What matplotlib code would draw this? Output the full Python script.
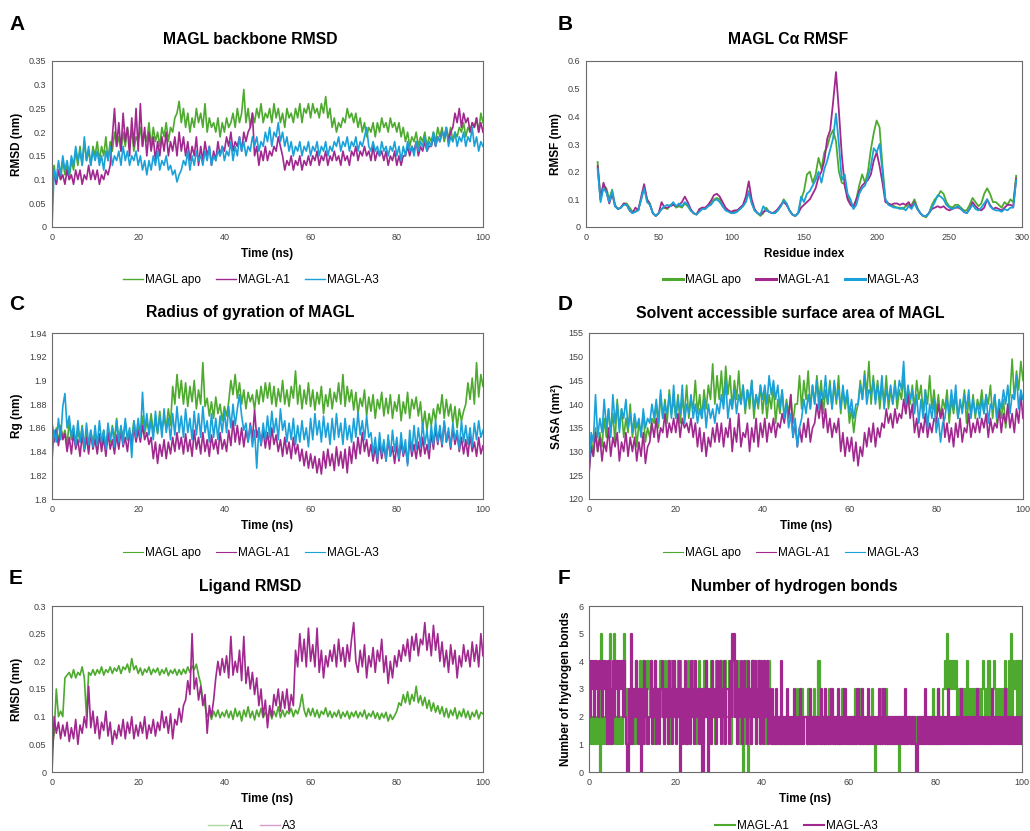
import matplotlib
matplotlib.use("Agg")
import matplotlib.pyplot as plt
import numpy as np

plt.rcParams['font.family'] = ['Liberation Sans', 'DejaVu Sans']

# colores
verde = '#4DAA2F'
magenta = '#A0288F'
azul = '#1AA1D9'

# ---------------- datos ----------------
# tiempo cada 0.5 ns (201 puntos), 0..100 ns
t = np.arange(201) * 0.5

# A: RMSD backbone (nm)
rmsd_apo = [
    0.10, 0.13, 0.09, 0.12, 0.10, 0.14, 0.11, 0.13, 0.10, 0.14, 0.12, 0.16, 0.13, 0.17, 0.13, 0.18, 0.14, 0.16, 0.13, 0.17,
    0.15, 0.18, 0.14, 0.17, 0.15, 0.19, 0.14, 0.18, 0.16, 0.20, 0.17, 0.19, 0.16, 0.20, 0.17, 0.21, 0.18, 0.20, 0.16, 0.19,
    0.18, 0.21, 0.17, 0.20, 0.18, 0.22, 0.17, 0.21, 0.18, 0.20, 0.17, 0.21, 0.19, 0.22, 0.18, 0.21, 0.20, 0.23, 0.24, 0.265,
    0.22, 0.25, 0.21, 0.24, 0.20, 0.23, 0.21, 0.25, 0.22, 0.24, 0.21, 0.26, 0.20, 0.23, 0.21, 0.22, 0.20, 0.23, 0.19, 0.22,
    0.20, 0.23, 0.21, 0.22, 0.24, 0.21, 0.25, 0.22, 0.24, 0.29, 0.22, 0.25, 0.21, 0.24, 0.22, 0.25, 0.23, 0.26, 0.22, 0.24,
    0.23, 0.25, 0.22, 0.26, 0.23, 0.25, 0.22, 0.24, 0.21, 0.25, 0.23, 0.24, 0.22, 0.25, 0.23, 0.26, 0.22, 0.25, 0.24, 0.26,
    0.23, 0.26, 0.24, 0.25, 0.23, 0.26, 0.24, 0.275, 0.23, 0.25, 0.21, 0.23, 0.20, 0.22, 0.21, 0.23, 0.22, 0.25, 0.23, 0.24,
    0.22, 0.24, 0.21, 0.23, 0.20, 0.22, 0.19, 0.21, 0.20, 0.22, 0.19, 0.22, 0.20, 0.23, 0.21, 0.22, 0.20, 0.23, 0.21, 0.22,
    0.20, 0.22, 0.19, 0.21, 0.18, 0.20, 0.17, 0.19, 0.18, 0.20, 0.17, 0.19, 0.18, 0.20, 0.17, 0.19, 0.18, 0.20, 0.18, 0.21,
    0.19, 0.21, 0.18, 0.20, 0.19, 0.21, 0.18, 0.20, 0.19, 0.21, 0.20, 0.22, 0.19, 0.21, 0.20, 0.22, 0.21, 0.23, 0.20, 0.24,
    0.22]
rmsd_a1 = [
    0.08, 0.11, 0.09, 0.12, 0.10, 0.11, 0.09, 0.12, 0.10, 0.11, 0.09, 0.12, 0.10, 0.12, 0.09, 0.11, 0.10, 0.13, 0.10, 0.12,
    0.10, 0.12, 0.09, 0.11, 0.10, 0.12, 0.11, 0.13, 0.19, 0.25, 0.17, 0.22, 0.16, 0.24, 0.18, 0.21, 0.15, 0.23, 0.17, 0.25,
    0.16, 0.26, 0.17, 0.21, 0.15, 0.20, 0.16, 0.19, 0.14, 0.18, 0.15, 0.19, 0.16, 0.20, 0.15, 0.18, 0.16, 0.19, 0.15, 0.20,
    0.16, 0.19, 0.15, 0.18, 0.14, 0.17, 0.15, 0.19, 0.13, 0.17, 0.14, 0.18, 0.15, 0.17, 0.13, 0.16, 0.14, 0.18, 0.15, 0.17,
    0.16, 0.19, 0.17, 0.20, 0.16, 0.18, 0.17, 0.19, 0.16, 0.20, 0.18, 0.20, 0.21, 0.24, 0.15, 0.17, 0.13, 0.16, 0.14, 0.17,
    0.14, 0.16, 0.15, 0.17, 0.16, 0.19, 0.17, 0.15, 0.12, 0.14, 0.13, 0.15, 0.12, 0.14, 0.13, 0.15, 0.12, 0.14, 0.13, 0.15,
    0.13, 0.15, 0.14, 0.16, 0.13, 0.15, 0.14, 0.16, 0.13, 0.15, 0.14, 0.16, 0.14, 0.15, 0.13, 0.16, 0.14, 0.15, 0.13, 0.16,
    0.15, 0.17, 0.14, 0.16, 0.15, 0.17, 0.15, 0.16, 0.14, 0.17, 0.14, 0.16, 0.15, 0.16, 0.14, 0.16, 0.13, 0.15, 0.14, 0.16,
    0.13, 0.15, 0.13, 0.15, 0.15, 0.17, 0.15, 0.17, 0.16, 0.18, 0.15, 0.17, 0.16, 0.18, 0.16, 0.17, 0.17, 0.19, 0.17, 0.19,
    0.18, 0.20, 0.19, 0.21, 0.18, 0.20, 0.21, 0.24, 0.22, 0.25, 0.21, 0.24, 0.22, 0.23, 0.20, 0.22, 0.21, 0.23, 0.20, 0.22,
    0.20]
rmsd_a3 = [
    0.00, 0.12, 0.10, 0.14, 0.11, 0.15, 0.12, 0.14, 0.11, 0.15, 0.13, 0.17, 0.14, 0.16, 0.13, 0.19, 0.14, 0.17, 0.13, 0.16,
    0.14, 0.16, 0.13, 0.15, 0.12, 0.16, 0.14, 0.17, 0.13, 0.15, 0.14, 0.16, 0.13, 0.17, 0.14, 0.16, 0.13, 0.15, 0.14, 0.16,
    0.13, 0.15, 0.12, 0.14, 0.11, 0.14, 0.12, 0.15, 0.13, 0.16, 0.12, 0.14, 0.13, 0.15, 0.12, 0.13, 0.11, 0.12, 0.095, 0.11,
    0.12, 0.14, 0.13, 0.16, 0.12, 0.15, 0.13, 0.16, 0.14, 0.15, 0.13, 0.16, 0.14, 0.17, 0.13, 0.15, 0.14, 0.16, 0.15, 0.17,
    0.14, 0.16, 0.15, 0.18, 0.14, 0.17, 0.15, 0.19, 0.16, 0.18, 0.15, 0.17, 0.16, 0.19, 0.17, 0.19, 0.16, 0.18, 0.17, 0.20,
    0.18, 0.21, 0.17, 0.20, 0.19, 0.22, 0.18, 0.20, 0.17, 0.19, 0.16, 0.18, 0.15, 0.17, 0.16, 0.18, 0.15, 0.17, 0.16, 0.18,
    0.15, 0.17, 0.16, 0.18, 0.15, 0.17, 0.16, 0.18, 0.15, 0.17, 0.16, 0.18, 0.17, 0.19, 0.16, 0.18, 0.17, 0.19, 0.16, 0.18,
    0.17, 0.19, 0.16, 0.18, 0.17, 0.19, 0.21, 0.17, 0.16, 0.18, 0.16, 0.17, 0.15, 0.18, 0.16, 0.17, 0.15, 0.17, 0.16, 0.18,
    0.15, 0.17, 0.14, 0.17, 0.15, 0.18, 0.16, 0.17, 0.15, 0.18, 0.16, 0.18, 0.17, 0.19, 0.16, 0.18, 0.17, 0.20, 0.17, 0.19,
    0.18, 0.20, 0.19, 0.21, 0.17, 0.19, 0.18, 0.20, 0.17, 0.19, 0.18, 0.20, 0.17, 0.19, 0.18, 0.21, 0.17, 0.19, 0.16, 0.18,
    0.17]

# B: RMSF por residuo (nm), residuos 8..296 cada 2
residuos = np.arange(8, 297, 2)
rmsf_apo = [
    0.235, 0.10, 0.15, 0.14, 0.10, 0.135, 0.08, 0.065, 0.07, 0.085,
    0.085, 0.07, 0.055, 0.055, 0.065, 0.10, 0.145, 0.10, 0.085, 0.05,
    0.04, 0.05, 0.065, 0.07, 0.065, 0.08, 0.085, 0.07, 0.075, 0.07,
    0.085, 0.075, 0.06, 0.05, 0.045, 0.06, 0.07, 0.065, 0.075, 0.085,
    0.10, 0.105, 0.10, 0.075, 0.065, 0.06, 0.05, 0.055, 0.06, 0.065,
    0.075, 0.095, 0.13, 0.09, 0.06, 0.05, 0.04, 0.05, 0.07, 0.055,
    0.05, 0.05, 0.06, 0.075, 0.10, 0.085, 0.06, 0.045, 0.04, 0.05,
    0.10, 0.13, 0.19, 0.20, 0.16, 0.19, 0.25, 0.21, 0.27, 0.29,
    0.33, 0.35, 0.31, 0.20, 0.16, 0.155, 0.11, 0.09, 0.075, 0.10,
    0.15, 0.19, 0.16, 0.20, 0.28, 0.34, 0.385, 0.36, 0.22, 0.10,
    0.085, 0.08, 0.075, 0.07, 0.07, 0.065, 0.075, 0.08, 0.08, 0.10,
    0.07, 0.05, 0.04, 0.035, 0.05, 0.08, 0.10, 0.11, 0.13, 0.12,
    0.09, 0.075, 0.07, 0.08, 0.08, 0.07, 0.06, 0.06, 0.08, 0.105,
    0.09, 0.075, 0.085, 0.12, 0.14, 0.12, 0.09, 0.09, 0.08, 0.07,
    0.09, 0.08, 0.10, 0.09, 0.185]
rmsf_a1 = [
    0.22, 0.10, 0.16, 0.13, 0.085, 0.12, 0.075, 0.065, 0.07, 0.085,
    0.08, 0.06, 0.05, 0.07, 0.06, 0.11, 0.155, 0.10, 0.08, 0.05,
    0.04, 0.05, 0.09, 0.07, 0.07, 0.075, 0.08, 0.075, 0.08, 0.09,
    0.11, 0.09, 0.065, 0.05, 0.045, 0.065, 0.07, 0.07, 0.08, 0.095,
    0.115, 0.12, 0.11, 0.09, 0.07, 0.06, 0.055, 0.06, 0.06, 0.07,
    0.08, 0.11, 0.165, 0.10, 0.065, 0.05, 0.045, 0.055, 0.06, 0.055,
    0.05, 0.055, 0.065, 0.08, 0.09, 0.08, 0.06, 0.045, 0.04, 0.05,
    0.07, 0.08, 0.09, 0.10, 0.12, 0.14, 0.18, 0.20, 0.24, 0.32,
    0.35, 0.45, 0.56, 0.42, 0.26, 0.15, 0.10, 0.08, 0.07, 0.10,
    0.13, 0.15, 0.16, 0.17, 0.19, 0.24, 0.27, 0.22, 0.16, 0.09,
    0.085, 0.08, 0.085, 0.085, 0.08, 0.085, 0.08, 0.09, 0.07, 0.09,
    0.065, 0.05, 0.04, 0.04, 0.05, 0.065, 0.07, 0.075, 0.07, 0.075,
    0.065, 0.06, 0.065, 0.07, 0.07, 0.065, 0.055, 0.05, 0.065, 0.09,
    0.075, 0.065, 0.06, 0.07, 0.10, 0.08, 0.065, 0.07, 0.065, 0.06,
    0.07, 0.08, 0.08, 0.075, 0.175]
rmsf_a3 = [
    0.21, 0.09, 0.14, 0.125, 0.09, 0.13, 0.075, 0.065, 0.07, 0.08,
    0.08, 0.06, 0.05, 0.055, 0.06, 0.10, 0.14, 0.09, 0.08, 0.05,
    0.04, 0.05, 0.065, 0.075, 0.08, 0.075, 0.09, 0.075, 0.085, 0.075,
    0.09, 0.08, 0.06, 0.05, 0.045, 0.055, 0.065, 0.065, 0.075, 0.08,
    0.095, 0.10, 0.09, 0.075, 0.06, 0.055, 0.05, 0.05, 0.055, 0.065,
    0.075, 0.09, 0.125, 0.085, 0.06, 0.05, 0.045, 0.075, 0.06, 0.055,
    0.05, 0.05, 0.06, 0.075, 0.095, 0.085, 0.06, 0.045, 0.04, 0.05,
    0.11, 0.09, 0.12, 0.13, 0.15, 0.17, 0.20, 0.16, 0.21, 0.24,
    0.28, 0.32, 0.41, 0.30, 0.17, 0.19, 0.12, 0.10, 0.065, 0.08,
    0.12, 0.14, 0.15, 0.18, 0.22, 0.285, 0.27, 0.30, 0.20, 0.10,
    0.08, 0.075, 0.07, 0.07, 0.065, 0.07, 0.06, 0.075, 0.065, 0.085,
    0.065, 0.05, 0.04, 0.04, 0.05, 0.07, 0.09, 0.115, 0.11, 0.10,
    0.08, 0.07, 0.065, 0.07, 0.075, 0.065, 0.055, 0.05, 0.065, 0.08,
    0.065, 0.06, 0.07, 0.085, 0.10, 0.075, 0.065, 0.06, 0.06, 0.055,
    0.065, 0.06, 0.07, 0.07, 0.17]

# C: radio de giro (nm)
rg_apo = [
    1.865, 1.850, 1.860, 1.848, 1.862, 1.852, 1.858, 1.846, 1.865, 1.850, 1.860, 1.845, 1.858, 1.848, 1.862, 1.845, 1.856, 1.842, 1.858, 1.846,
    1.855, 1.840, 1.852, 1.845, 1.858, 1.843, 1.856, 1.848, 1.862, 1.850, 1.868, 1.848, 1.860, 1.852, 1.865, 1.850, 1.858, 1.850, 1.866, 1.852,
    1.862, 1.852, 1.870, 1.855, 1.865, 1.858, 1.872, 1.856, 1.866, 1.855, 1.874, 1.858, 1.868, 1.860, 1.876, 1.862, 1.895, 1.880, 1.905, 1.885,
    1.900, 1.880, 1.898, 1.878, 1.895, 1.882, 1.900, 1.876, 1.892, 1.880, 1.915, 1.878, 1.885, 1.870, 1.882, 1.868, 1.886, 1.872, 1.880, 1.866,
    1.878, 1.870, 1.882, 1.900, 1.888, 1.905, 1.885, 1.898, 1.880, 1.892, 1.876, 1.890, 1.882, 1.888, 1.875, 1.892, 1.880, 1.895, 1.882, 1.898,
    1.885, 1.898, 1.880, 1.895, 1.878, 1.893, 1.882, 1.900, 1.880, 1.892, 1.878, 1.895, 1.885, 1.908, 1.880, 1.896, 1.876, 1.892, 1.880, 1.898,
    1.878, 1.892, 1.875, 1.890, 1.880, 1.895, 1.872, 1.888, 1.878, 1.893, 1.876, 1.890, 1.882, 1.898, 1.880, 1.905, 1.878, 1.895, 1.882, 1.892,
    1.875, 1.890, 1.872, 1.885, 1.878, 1.892, 1.870, 1.886, 1.874, 1.888, 1.868, 1.884, 1.876, 1.890, 1.870, 1.885, 1.872, 1.888, 1.868, 1.882,
    1.874, 1.888, 1.866, 1.882, 1.872, 1.890, 1.868, 1.884, 1.876, 1.886, 1.870, 1.882, 1.860, 1.874, 1.858, 1.872, 1.862, 1.876, 1.866, 1.880,
    1.872, 1.888, 1.868, 1.884, 1.870, 1.880, 1.864, 1.878, 1.860, 1.876, 1.866, 1.874, 1.880, 1.898, 1.884, 1.902, 1.880, 1.915, 1.886, 1.905,
    1.895]
rg_a1 = [
    1.862, 1.848, 1.858, 1.845, 1.860, 1.850, 1.855, 1.840, 1.852, 1.838, 1.856, 1.842, 1.850, 1.836, 1.854, 1.840, 1.852, 1.838, 1.856, 1.842,
    1.850, 1.838, 1.855, 1.840, 1.852, 1.836, 1.856, 1.842, 1.850, 1.838, 1.854, 1.842, 1.858, 1.844, 1.852, 1.840, 1.856, 1.845, 1.860, 1.848,
    1.858, 1.848, 1.862, 1.850, 1.856, 1.846, 1.852, 1.834, 1.848, 1.830, 1.846, 1.836, 1.850, 1.834, 1.848, 1.838, 1.852, 1.840, 1.856, 1.842,
    1.852, 1.838, 1.855, 1.840, 1.850, 1.836, 1.858, 1.842, 1.852, 1.838, 1.856, 1.840, 1.850, 1.836, 1.854, 1.842, 1.850, 1.838, 1.856, 1.842,
    1.850, 1.840, 1.858, 1.845, 1.866, 1.848, 1.862, 1.846, 1.860, 1.844, 1.858, 1.848, 1.864, 1.850, 1.875, 1.852, 1.860, 1.845, 1.858, 1.843,
    1.856, 1.842, 1.860, 1.846, 1.854, 1.840, 1.850, 1.836, 1.852, 1.838, 1.848, 1.834, 1.852, 1.838, 1.846, 1.832, 1.842, 1.828, 1.840, 1.826,
    1.838, 1.826, 1.836, 1.822, 1.834, 1.821, 1.840, 1.826, 1.842, 1.828, 1.838, 1.824, 1.844, 1.828, 1.840, 1.826, 1.842, 1.822, 1.844, 1.830,
    1.848, 1.834, 1.852, 1.838, 1.856, 1.840, 1.850, 1.836, 1.846, 1.832, 1.844, 1.830, 1.848, 1.834, 1.846, 1.832, 1.850, 1.836, 1.844, 1.830,
    1.846, 1.832, 1.848, 1.836, 1.844, 1.830, 1.850, 1.836, 1.846, 1.834, 1.848, 1.836, 1.852, 1.838, 1.846, 1.834, 1.856, 1.842, 1.860, 1.846,
    1.858, 1.844, 1.865, 1.848, 1.856, 1.842, 1.860, 1.846, 1.855, 1.840, 1.852, 1.838, 1.850, 1.836, 1.854, 1.840, 1.848, 1.836, 1.852, 1.838,
    1.845]
rg_a3 = [
    1.832, 1.858, 1.848, 1.868, 1.850, 1.878, 1.889, 1.860, 1.870, 1.852, 1.862, 1.845, 1.866, 1.848, 1.860, 1.842, 1.864, 1.846, 1.858, 1.844,
    1.862, 1.845, 1.866, 1.848, 1.858, 1.842, 1.864, 1.850, 1.860, 1.844, 1.866, 1.848, 1.862, 1.846, 1.868, 1.850, 1.860, 1.835, 1.866, 1.852,
    1.868, 1.852, 1.890, 1.858, 1.872, 1.854, 1.866, 1.850, 1.874, 1.856, 1.870, 1.852, 1.876, 1.856, 1.868, 1.850, 1.872, 1.854, 1.878, 1.856,
    1.870, 1.852, 1.876, 1.856, 1.868, 1.850, 1.874, 1.854, 1.872, 1.852, 1.878, 1.856, 1.866, 1.848, 1.872, 1.852, 1.868, 1.850, 1.870, 1.856,
    1.874, 1.856, 1.878, 1.860, 1.880, 1.862, 1.876, 1.888, 1.870, 1.858, 1.864, 1.848, 1.862, 1.844, 1.858, 1.826, 1.860, 1.846, 1.864, 1.850,
    1.870, 1.852, 1.874, 1.856, 1.868, 1.850, 1.876, 1.858, 1.866, 1.848, 1.864, 1.850, 1.868, 1.846, 1.862, 1.848, 1.866, 1.850, 1.860, 1.844,
    1.868, 1.850, 1.872, 1.854, 1.866, 1.848, 1.870, 1.852, 1.864, 1.846, 1.868, 1.850, 1.872, 1.852, 1.864, 1.846, 1.868, 1.850, 1.862, 1.848,
    1.868, 1.852, 1.873, 1.854, 1.866, 1.850, 1.870, 1.852, 1.856, 1.838, 1.852, 1.834, 1.856, 1.838, 1.850, 1.832, 1.854, 1.836, 1.858, 1.840,
    1.852, 1.834, 1.856, 1.838, 1.850, 1.828, 1.858, 1.840, 1.862, 1.842, 1.860, 1.844, 1.864, 1.846, 1.858, 1.842, 1.862, 1.846, 1.866, 1.848,
    1.862, 1.846, 1.866, 1.848, 1.860, 1.844, 1.864, 1.850, 1.858, 1.842, 1.866, 1.848, 1.862, 1.846, 1.860, 1.844, 1.864, 1.850, 1.866, 1.852,
    1.858]

# D: SASA (nm2)
sasa_apo = [
    126, 133, 129, 135, 130, 134, 131, 137, 133, 139, 134, 138, 132, 141, 135, 139, 133, 137, 134, 140,
    133, 137, 131, 136, 134, 138, 132, 135, 133, 137, 136, 140, 135, 142, 137, 141, 136, 143, 138, 141,
    137, 142, 136, 141, 138, 144, 137, 141, 139, 145, 138, 142, 137, 143, 139, 144, 141, 148.5, 140, 146,
    141, 147, 140, 148, 142, 146, 139, 145, 141, 147, 140, 144, 138, 143, 139, 145, 137, 142, 139, 144,
    138, 143, 137, 142, 139, 144, 136, 141, 138, 143, 137, 141, 138, 142, 136, 140, 140, 146, 139, 145,
    141, 147, 139, 144, 140, 146, 141, 145, 138, 143, 140, 145, 139, 144, 140, 146, 138, 143, 139, 142,
    136, 139, 134, 138, 140, 145, 141, 147, 142, 149, 140, 146, 141, 145, 139, 144, 140, 146, 139, 143,
    140, 145, 139, 143, 141, 146, 138, 143, 140, 144, 139, 145, 141, 144, 138, 143, 140, 146, 139, 143,
    138, 142, 137, 141, 139, 143, 136, 141, 138, 142, 137, 140, 139, 143, 136, 141, 138, 142, 137, 141,
    139, 143, 138, 142, 140, 144, 137, 142, 136, 140, 137, 141, 135, 139, 142, 149.5, 141, 147, 143, 149,
    145]
sasa_a1 = [
    125, 131, 129, 134, 130, 133, 128, 132, 130, 135, 129, 133, 131, 134, 128, 132, 130, 134, 129, 133,
    130, 133, 128, 132, 129, 134, 127.5, 131, 132, 136, 133, 137, 132, 135, 134, 138, 133, 136, 134, 137,
    134, 138, 133, 137, 135, 136, 134, 137, 133, 136, 131, 135, 130, 134, 129, 133, 131, 135, 132, 136,
    132, 136, 131, 135, 133, 137, 130, 135, 132, 138, 131, 134, 133, 136, 130, 135, 132, 137, 131, 136,
    133, 137, 132, 136, 134, 137, 133, 136, 135, 138, 136, 140, 137, 142, 133, 136, 131, 135, 132, 136,
    133, 137, 132, 135, 136, 140, 137, 141, 135, 139, 134, 137, 133, 136, 134, 137, 130, 134, 129, 133,
    130, 133, 128, 132, 127, 131, 129, 134, 131, 135, 132, 136, 131, 135, 133, 136, 135, 139, 136, 138,
    135, 139, 136, 138, 137, 141, 138, 142, 137, 140, 134, 137, 133, 136, 134, 138, 133, 136, 134, 137,
    136, 140, 137, 139, 133, 136, 132, 135, 131, 136, 133, 137, 132, 135, 134, 138, 133, 136, 134, 137,
    134, 137, 135, 138, 133, 137, 134, 136, 135, 139, 134, 138, 136, 140, 135, 138, 134, 139, 136, 142,
    137]
sasa_a3 = [
    127, 134, 132, 142, 133, 137, 134, 141, 135, 139, 133, 142, 136, 140, 134, 139, 137, 141, 135, 138,
    134, 138, 135, 137, 133, 139, 135, 137, 136, 140, 137, 141, 136, 143, 137, 140, 138, 142, 137, 144,
    137, 141, 138, 144, 136, 140, 138, 142, 137, 140, 136, 139, 137, 141, 135, 140, 137, 139, 136, 140,
    138, 142, 139, 145, 137, 141, 139, 143, 138, 142, 140, 144, 139, 143, 141, 145, 139, 142, 140, 144,
    141, 144, 140, 146, 142, 145, 141, 144, 139, 143, 137, 140, 135, 138, 133, 137, 131, 135, 137, 141,
    138, 142, 139, 144, 140, 145, 139, 143, 141, 146, 140, 144, 139, 145, 141, 143, 139, 144, 140, 143,
    138, 141, 137, 140, 140, 144, 141, 146, 140, 143, 142, 145, 140, 144, 141, 146, 139, 143, 141, 144,
    140, 144, 141, 145, 143, 149, 140, 144, 141, 143, 138, 142, 136, 141, 137, 143, 135, 140, 137, 141,
    134, 137, 132, 136, 137, 141, 138, 143, 139, 144, 137, 141, 138, 142, 139, 143, 137, 141, 138, 140,
    137, 141, 138, 142, 136, 140, 139, 142, 137, 141, 139, 143, 140, 144, 138, 142, 141, 146, 139, 143,
    141]

# E: RMSD de ligando (nm)
lig_a1 = [
    0.04, 0.07, 0.15, 0.10, 0.11, 0.10, 0.17, 0.175, 0.18, 0.17, 0.185, 0.17, 0.18, 0.175, 0.19, 0.17, 0.10, 0.18, 0.175, 0.185,
    0.175, 0.185, 0.178, 0.19, 0.175, 0.185, 0.18, 0.19, 0.178, 0.188, 0.182, 0.192, 0.178, 0.19, 0.185, 0.195, 0.18, 0.205, 0.185, 0.192,
    0.178, 0.188, 0.175, 0.186, 0.18, 0.19, 0.176, 0.186, 0.18, 0.188, 0.175, 0.185, 0.178, 0.188, 0.174, 0.184, 0.178, 0.186, 0.175, 0.185,
    0.176, 0.186, 0.178, 0.19, 0.18, 0.192, 0.185, 0.195, 0.175, 0.16, 0.13, 0.12, 0.10, 0.11, 0.095, 0.11, 0.10, 0.112, 0.098, 0.108,
    0.10, 0.112, 0.098, 0.11, 0.095, 0.115, 0.10, 0.11, 0.092, 0.112, 0.10, 0.118, 0.098, 0.11, 0.094, 0.112, 0.10, 0.115, 0.098, 0.108,
    0.10, 0.112, 0.096, 0.11, 0.10, 0.118, 0.098, 0.112, 0.10, 0.11, 0.105, 0.115, 0.10, 0.112, 0.105, 0.118, 0.14, 0.112, 0.10, 0.115,
    0.102, 0.115, 0.10, 0.112, 0.098, 0.11, 0.104, 0.116, 0.10, 0.11, 0.098, 0.108, 0.10, 0.112, 0.097, 0.108, 0.10, 0.11, 0.096, 0.108,
    0.10, 0.11, 0.098, 0.108, 0.10, 0.112, 0.096, 0.106, 0.10, 0.11, 0.097, 0.107, 0.095, 0.106, 0.098, 0.108, 0.092, 0.104, 0.095, 0.102,
    0.11, 0.125, 0.12, 0.14, 0.125, 0.145, 0.122, 0.14, 0.128, 0.155, 0.125, 0.138, 0.12, 0.135, 0.115, 0.13, 0.11, 0.125, 0.108, 0.12,
    0.105, 0.118, 0.10, 0.115, 0.098, 0.112, 0.102, 0.116, 0.096, 0.11, 0.10, 0.114, 0.098, 0.11, 0.095, 0.108, 0.10, 0.112, 0.096, 0.108,
    0.105]
lig_a3 = [
    0.00, 0.10, 0.07, 0.09, 0.06, 0.085, 0.065, 0.09, 0.055, 0.08, 0.06, 0.095, 0.05, 0.085, 0.07, 0.10, 0.08, 0.155, 0.08, 0.11,
    0.07, 0.10, 0.06, 0.09, 0.075, 0.11, 0.065, 0.09, 0.05, 0.075, 0.06, 0.085, 0.065, 0.095, 0.06, 0.09, 0.07, 0.10, 0.06, 0.085,
    0.065, 0.09, 0.07, 0.10, 0.06, 0.085, 0.07, 0.095, 0.065, 0.09, 0.075, 0.11, 0.08, 0.10, 0.07, 0.105, 0.06, 0.095, 0.085, 0.115,
    0.09, 0.12, 0.13, 0.165, 0.14, 0.25, 0.15, 0.17, 0.13, 0.155, 0.12, 0.14, 0.07, 0.12, 0.10, 0.13, 0.17, 0.20, 0.175, 0.205,
    0.18, 0.21, 0.17, 0.245, 0.175, 0.20, 0.18, 0.22, 0.165, 0.245, 0.16, 0.19, 0.15, 0.18, 0.14, 0.17, 0.12, 0.15, 0.10, 0.13,
    0.08, 0.12, 0.10, 0.14, 0.12, 0.15, 0.11, 0.145, 0.115, 0.15, 0.11, 0.14, 0.12, 0.22, 0.19, 0.25, 0.20, 0.24, 0.19, 0.26,
    0.20, 0.23, 0.19, 0.26, 0.18, 0.22, 0.17, 0.21, 0.19, 0.22, 0.20, 0.23, 0.19, 0.24, 0.20, 0.225, 0.19, 0.23, 0.20, 0.24,
    0.27, 0.20, 0.18, 0.22, 0.19, 0.23, 0.17, 0.21, 0.19, 0.225, 0.18, 0.22, 0.20, 0.24, 0.18, 0.21, 0.16, 0.20, 0.17, 0.21,
    0.19, 0.22, 0.20, 0.23, 0.21, 0.24, 0.20, 0.245, 0.22, 0.25, 0.21, 0.24, 0.23, 0.27, 0.22, 0.25, 0.21, 0.265, 0.22, 0.25,
    0.20, 0.235, 0.19, 0.22, 0.18, 0.23, 0.195, 0.22, 0.17, 0.21, 0.19, 0.23, 0.20, 0.22, 0.19, 0.235, 0.20, 0.23, 0.19, 0.25,
    0.21]

# F: numero de puentes de hidrogeno, cada 0.25 ns (401 valores, un digito por cuadro)
t_hb = np.arange(401) * 0.25
hb_a1 = ("12121212" "21051212" "12152325" "12121212" "52131213"
         "23142324" "32413243" "24231423" "32423142" "24314232" "32424132" "23142324" "42313242"
         "31424232" "24231423" "32423142" "24312432" "32413201" "24302314" "23142423" "32413242"
         "21212121" "12121212" "21212121" "31212312" "21312121" "31214121" "21312131" "21212121"
         "12312121" "21212131" "21312121" "12121312" "01212131" "21312121" "12121202" "12121212"
         "21212121" "12121212" "21212131" "21312123"
         "343534343434" "23232323242323232323" "2323432324232343232323234232" "4252434242424")
hb_a3 = ("42434243" "24342434" "21413142" "43424342" "42100315"
         "13243123" "03142312" "24132413" "21342132" "31423142" "13240231" "24132142" "31423213"
         "00324302" "31423142" "24132413" "31425452" "41324134" "23142314" "24132414" "31424132"
         "13121312" "14121213" "12121312" "12131212" "21213121" "21212131" "21312121" "31212131"
         "21213121" "21212121" "31213121" "21312121" "21213121" "31212121" "21212121" "21213121"
         "21212100" "21212131" "21212121" "21312121" "21213121" "21212121" "31212121" "21212131"
         "21212121" "21213121" "21212121" "31212121" "21212121" "2")
hb_a1 = [int(c) for c in hb_a1]
hb_a3 = [int(c) for c in hb_a3]

# ---------------- figura ----------------
W, H = 1030, 831
fig = plt.figure(figsize=(W / 100, H / 100), dpi=100)


def ejes(l, r, top, b):
    return fig.add_axes([l / W, 1 - b / H, (r - l) / W, (b - top) / H])


def estilo(ax, xmax, xstep, ymin, ymax, ystep, xlabel, ylabel, ylab_x):
    ax.set_xlim(0, xmax)
    ax.set_ylim(ymin, ymax)
    ax.set_xticks(np.arange(0, xmax + 0.001, xstep))
    yt = np.round(np.arange(ymin, ymax + ystep / 2, ystep), 4)
    ax.set_yticks(yt)
    ax.set_yticklabels(['{:g}'.format(v) for v in yt])
    ax.set_xticklabels(['{:g}'.format(v) for v in ax.get_xticks()])
    ax.tick_params(length=0, labelsize=6.5, labelcolor='#404040', pad=4)
    for s in ax.spines.values():
        s.set_color('#6b6b6b')
        s.set_linewidth(0.8)
    ax.set_xlabel(xlabel, fontsize=8.5, fontweight='bold')
    ax.xaxis.set_label_coords(0.5, -0.125)
    ax.set_ylabel(ylabel, fontsize=8.5, fontweight='bold')
    ax.yaxis.set_label_coords(ylab_x, 0.5)


def leyenda(ax, cx, cy, lw, alpha=1.0):
    handles, labels = ax.get_legend_handles_labels()
    leg = fig.legend(handles, labels, loc='center', bbox_to_anchor=(cx / W, 1 - cy / H),
                     ncol=3, frameon=False, fontsize=8.5, handlelength=1.7,
                     handletextpad=0.15, columnspacing=1.3)
    for h in leg.legend_handles:
        h.set_linewidth(lw)
        h.set_alpha(alpha)


def titulo(letra, lx, ly, texto, tx, ty):
    fig.text(lx / W, 1 - ly / H, letra, fontsize=15, fontweight='bold', va='center', ha='left')
    fig.text(tx / W, 1 - ty / H, texto, fontsize=11.3, fontweight='bold', va='center', ha='center')


lw_ts = 1.2

# A
ax = ejes(52, 483, 61, 227)
ax.plot(t, rmsd_apo, color=verde, lw=lw_ts, label='MAGL apo')
ax.plot(t, rmsd_a1, color=magenta, lw=lw_ts, label='MAGL-A1')
ax.plot(t, rmsd_a3, color=azul, lw=lw_ts, label='MAGL-A3')
estilo(ax, 100, 20, 0, 0.35, 0.05, 'Time (ns)', 'RMSD (nm)', -0.067)
leyenda(ax, 251, 280, 1.0)
titulo('A', 9, 25, 'MAGL backbone RMSD', 250, 39)

# B
ax = ejes(586, 1022, 61, 227)
ax.plot(residuos, rmsf_apo, color=verde, lw=1.3, label='MAGL apo')
ax.plot(residuos, rmsf_a1, color=magenta, lw=1.3, label='MAGL-A1')
ax.plot(residuos, rmsf_a3, color=azul, lw=1.3, label='MAGL-A3')
estilo(ax, 300, 50, 0, 0.6, 0.1, 'Residue index', 'RMSF (nm)', -0.055)
leyenda(ax, 791, 280, 2.2)
titulo('B', 558, 25, 'MAGL C\u03b1 RMSF', 788, 39)

# C
ax = ejes(52, 483, 333, 499)
ax.plot(t, rg_apo, color=verde, lw=lw_ts, label='MAGL apo')
ax.plot(t, rg_a1, color=magenta, lw=lw_ts, label='MAGL-A1')
ax.plot(t, rg_a3, color=azul, lw=lw_ts, label='MAGL-A3')
estilo(ax, 100, 20, 1.8, 1.94, 0.02, 'Time (ns)', 'Rg (nm)', -0.067)
leyenda(ax, 251, 553, 0.8)
titulo('C', 9, 305, 'Radius of gyration of MAGL', 250, 313)

# D
ax = ejes(589, 1023, 333, 499)
ax.plot(t, sasa_apo, color=verde, lw=lw_ts, label='MAGL apo')
ax.plot(t, sasa_a1, color=magenta, lw=lw_ts, label='MAGL-A1')
ax.plot(t, sasa_a3, color=azul, lw=lw_ts, label='MAGL-A3')
estilo(ax, 100, 20, 120, 155, 5, 'Time (ns)', 'SASA (nm\u00b2)', -0.060)
leyenda(ax, 791, 553, 0.8)
titulo('D', 558, 305, 'Solvent accessible surface area of MAGL', 790, 313)

# E
ax = ejes(52, 483, 606, 772)
ax.plot(t, lig_a1, color=verde, lw=lw_ts, label='A1')
ax.plot(t, lig_a3, color=magenta, lw=lw_ts, label='A3')
estilo(ax, 100, 20, 0, 0.3, 0.05, 'Time (ns)', 'RMSD (nm)', -0.067)
leyenda(ax, 252, 826, 1.0, alpha=0.45)
titulo('E', 9, 578, 'Ligand RMSD', 250, 586)

# F
ax = ejes(589, 1022, 606, 772)
ax.plot(t_hb, hb_a1, color=verde, lw=1.6, drawstyle='steps-post', label='MAGL-A1')
ax.plot(t_hb, hb_a3, color=magenta, lw=1.6, drawstyle='steps-post', label='MAGL-A3')
estilo(ax, 100, 20, 0, 6, 1, 'Time (ns)', 'Number of hydrogen bonds', -0.039)
leyenda(ax, 796, 826, 1.5)
titulo('F', 558, 578, 'Number of hydrogen bonds', 794, 586)

fig.savefig('out.png', dpi=100)
